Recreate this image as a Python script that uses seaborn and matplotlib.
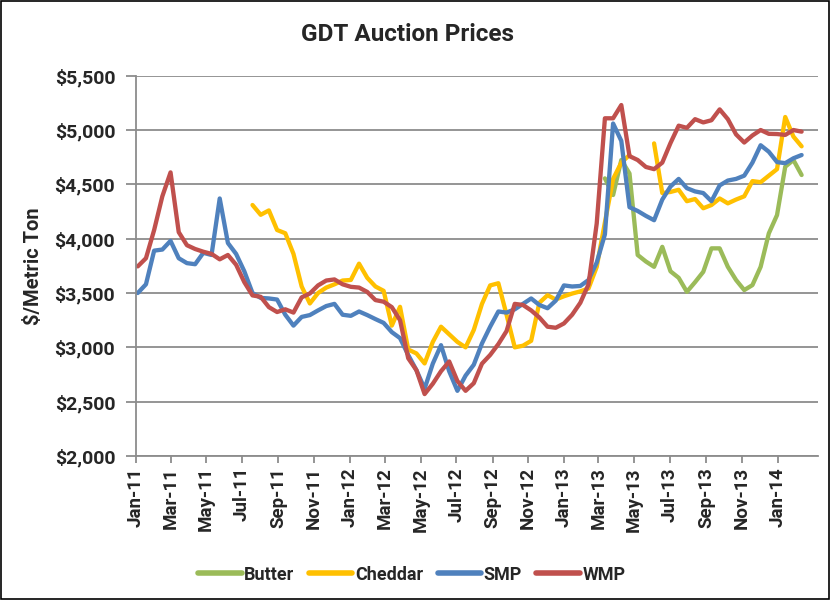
import numpy as np
import pandas as pd
import matplotlib
matplotlib.use("Agg")
import matplotlib.pyplot as plt
from matplotlib.lines import Line2D
from matplotlib.patches import Rectangle
import seaborn as sns

nan = np.nan

# Auction dates (roughly bi-weekly GDT events)
dates = pd.date_range("2011-01-04", periods=82, freq="14D")

products = ["Butter", "Cheddar", "SMP", "WMP"]
colors = ["#9BBB59", "#FFC000", "#4F81BD", "#C0504D"]

butter = [nan] * 57 + [
    4555, 4402, 4724, 4600, 3850, 3790, 3741, 3925, 3700, 3640,
    3511, 3600, 3695, 3911, 3911, 3741, 3620, 3527, 3573, 3741,
    4049, 4217, 4662, 4724, 4586]

cheddar = [nan] * 14 + [
    4310, 4220, 4260, 4080, 4050, 3860, 3560, 3404, 3500, 3550,
    3580, 3615, 3620, 3770, 3640, 3560, 3520, 3200, 3373, 2980,
    2944, 2852, 3050, 3190, 3120, 3050, 3000, 3160, 3400, 3570,
    3590, 3300, 3000, 3015, 3060, 3410, 3480, 3440, 3470, 3495,
    3515, 3542, 3740, 4150, 4550, 4700, 4770, nan, nan, 4877,
    4420, 4430, 4450, 4345, 4365, 4280, 4310, 4370, 4325, 4360,
    4390, 4530, 4520, 4580, 4640, 5120, 4940, 4850]

smp = [
    3500, 3580, 3890, 3900, 3980, 3820, 3775, 3765, 3870, 3850,
    4370, 3960, 3860, 3700, 3500, 3455, 3450, 3440, 3300, 3200,
    3280, 3297, 3340, 3380, 3400, 3300, 3290, 3330, 3297, 3260,
    3225, 3140, 3085, 2930, 2790, 2620, 2850, 3020, 2780, 2600,
    2740, 2840, 3036, 3190, 3330, 3320, 3350, 3400, 3450, 3390,
    3360, 3430, 3570, 3560, 3565, 3620, 3780, 4040, 5060, 4900,
    4290, 4255, 4210, 4170, 4360, 4480, 4550, 4465, 4435, 4420,
    4345, 4490, 4535, 4550, 4580, 4700, 4860, 4800, 4705, 4695,
    4740, 4770]

wmp = [
    3745, 3820, 4080, 4390, 4610, 4060, 3940, 3905, 3880, 3860,
    3810, 3850, 3760, 3600, 3478, 3465, 3370, 3325, 3350, 3320,
    3460, 3496, 3570, 3615, 3625, 3580, 3557, 3550, 3510, 3435,
    3420, 3370, 3250, 2900, 2790, 2570, 2665, 2780, 2870, 2690,
    2600, 2670, 2850, 2930, 3030, 3150, 3400, 3390, 3340, 3275,
    3190, 3180, 3220, 3300, 3410, 3580, 4140, 5108, 5108, 5230,
    4760, 4724, 4660, 4640, 4700, 4880, 5040, 5020, 5100, 5070,
    5090, 5190, 5100, 4960, 4885, 4950, 5000, 4965, 4963, 4955,
    5000, 4985]

yticks = [2000, 2500, 3000, 3500, 4000, 4500, 5000, 5500]
ytick_labels = ["$2,000", "$2,500", "$3,000", "$3,500", "$4,000", "$4,500", "$5,000", "$5,500"]
xtick_labels = ["Jan-11", "Mar-11", "May-11", "Jul-11", "Sep-11", "Nov-11",
                "Jan-12", "Mar-12", "May-12", "Jul-12", "Sep-12", "Nov-12",
                "Jan-13", "Mar-13", "May-13", "Jul-13", "Sep-13", "Nov-13", "Jan-14"]
xtick_dates = pd.to_datetime(xtick_labels, format="%b-%y")

# long table, with segment ids so gaps break the lines
frames = []
for name, vals in zip(products, [butter, cheddar, smp, wmp]):
    s = pd.Series(vals, dtype=float)
    seg = s.isna().cumsum()
    d = pd.DataFrame({"date": dates, "price": s, "product": name,
                      "seg": [f"{name}_{k}" for k in seg]})
    frames.append(d.dropna())
df = pd.concat(frames, ignore_index=True)

sns.set_style("white")
plt.rcParams["font.family"] = ["Roboto", "DejaVu Sans"]
plt.rcParams["font.weight"] = "bold"

fig = plt.figure(figsize=(8.32, 6), dpi=100)
ax = fig.add_axes([136 / 832, 1 - 456 / 600, (818 - 136) / 832, (456 - 75.7) / 600])

sns.lineplot(data=df, x="date", y="price", hue="product", units="seg",
             estimator=None, hue_order=products, palette=colors,
             linewidth=3.1, ax=ax, legend=False, sort=False)

ax.set_ylim(2000, 5500)
ax.set_yticks(yticks)
ax.set_yticklabels(ytick_labels, fontsize=14, fontweight="bold")
ax.set_xlim(pd.Timestamp("2011-01-01"), pd.Timestamp("2011-01-01") + pd.Timedelta(days=1165))
ax.set_xticks(xtick_dates)
ax.set_xticklabels(xtick_labels, rotation=90, fontsize=13.5, fontweight="bold")

ax.yaxis.grid(True, color="#8c8c8c", linewidth=1.3)
ax.xaxis.grid(False)
ax.set_axisbelow(True)
for sp in ["top", "right"]:
    ax.spines[sp].set_visible(False)
for sp in ["left", "bottom"]:
    ax.spines[sp].set_color("#8c8c8c")
    ax.spines[sp].set_linewidth(1.3)
ax.tick_params(axis="y", which="major", direction="out", length=7, width=1.3,
               color="#8c8c8c", pad=8, left=True)
ax.tick_params(axis="x", which="major", direction="out", length=5, width=1.3,
               color="#8c8c8c", pad=3, bottom=True)

ax.set_xlabel("")
ax.set_ylabel("$/Metric Ton", fontsize=14.5, fontweight="bold", labelpad=8)

fig.text(0.49, 0.942, "GDT Auction Prices", ha="center", va="center",
         fontsize=17.5, fontweight="bold")

handles = [Line2D([0], [0], color=c, lw=4) for c in colors]
fig.legend(handles, products, loc="center", bbox_to_anchor=(0.495, 0.042),
           ncol=4, frameon=False, prop={"weight": "bold", "size": 13},
           handlelength=2.4, handletextpad=0.15, columnspacing=0.8)

fig.patches.append(Rectangle((0.0015, 0.002), 0.995, 0.9955, transform=fig.transFigure,
                             fill=False, edgecolor="black", linewidth=1.2))

fig.savefig("out.png", dpi=100)
